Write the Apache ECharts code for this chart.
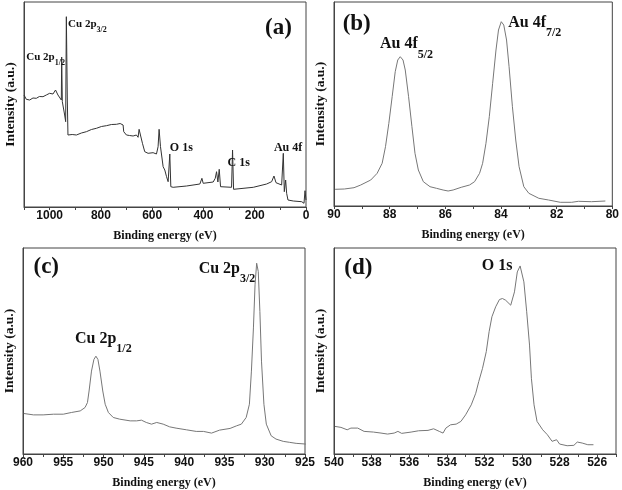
<!DOCTYPE html>
<html><head><meta charset="utf-8">
<script src="https://cdn.jsdelivr.net/npm/echarts@6/dist/echarts.min.js"></script>
<style>html,body{margin:0;padding:0;background:#fff}#c{width:622px;height:490px}</style>
</head><body><div id="c"></div><script>
// (a) survey spectrum
const surveyE = [1100,1091,1078,1065,1052,1040,1026,1013,1000,993,987,977,967.5,954.4,953,950.5,941.4,937.5,934.8,931,928.5,912,895.7,876,856.7,837,817.6,798,778.6,759,739.5,725,713.5,711,700.4,688,674.5,661.5,655,651,645.8,638,629,616,596.4,583.3,577,573,567.6,557.3,550.8,544,537.8,534,531.25,527.3,518.2,466,414,406,401,362,354,348.9,343.75,338.5,333.3,290.4,286.5,282.5,205.7,153.6,134,125,117,95,88.5,84.6,79.4,75.5,70.3,49.5,16.8,7.8,3.9,0];
const surveyI = [112,107.7,107,109,108.7,110.5,110.3,112,113.7,115.3,113,117,112,107,150,105.3,92,85.3,190.3,107,72,72.5,72,74,75.3,77.5,78.7,80.5,81.3,82.5,82.7,83.5,82,75.3,72,71.5,71,72,69.7,77.7,72,63.7,55.3,53.7,54.3,53,60.3,77.7,60.3,40.3,37,30.3,25.3,23.7,53,20.3,19.7,21,23,28.7,23.7,25,28.7,35.3,25,37.7,20.3,19.7,57,17.7,19.7,23,25.3,31,24.3,22,53.7,15.3,27,13.7,7,6,5.3,3.7,16.3,7];
// (b) Au 4f
const auE = [89.96,89.63,89.28,89.04,88.68,88.45,88.27,88.15,88.03,87.91,87.8,87.71,87.62,87.52,87.44,87.32,87.2,87.09,86.97,86.79,86.55,86.32,86.08,85.9,85.72,85.43,85.13,84.95,84.77,84.66,84.54,84.42,84.3,84.18,84.09,83.99,83.9,83.8,83.71,83.59,83.47,83.35,83.18,83,82.64,82.29,81.87,81.46,81.22,80.75,80.25];
const auI = [16.7,17,18.3,21,26,32.7,42.7,59.3,82.7,109.3,134.3,146,149.3,146,136,109.3,79.3,52.7,36,24.3,19.3,17.7,16,15,16,18.7,21,24.3,32.7,42.7,62.7,89.3,122.7,156,176,184.3,181,166,139.3,99.3,66,39.3,19.3,12.7,7.7,6,3.7,3.7,4.7,4.3,5];
// (c) Cu 2p
const cuE = [959.9,958.7,957.5,956.2,955,954,952.9,952.3,952,951.8,951.5,951.2,950.95,950.7,950.45,950.1,949.8,949.4,948.8,948,946.7,945.9,945.3,944.7,944.05,943.4,942.6,941.8,941,939.7,938.5,937.6,936.6,935.6,934.3,933.5,932.9,932.3,931.9,931.65,931.4,931.2,931,930.8,930.6,930.4,930.1,929.8,929.2,928.6,927.7,926.9,926.1,924.9];
const cuI = [40.7,39.3,39.3,40,40,41.7,43.3,46.7,51.7,63.3,83.3,95,98.3,95,83.3,63.3,50,41.7,36.7,35,33.3,33.3,34,31.7,30,31.7,30,27.3,26,24.3,22.7,22.7,21,24,25.7,28.3,30,36.7,50,83.3,126.7,170,191.7,183.3,143.3,93.3,50,30,18.3,15,12.7,11.7,10.7,10];
// (d) O 1s
const oE = [539.95,539.63,539.3,539.1,538.74,538.4,537.9,537.5,537.15,536.8,536.6,536.4,535.9,535.5,535,534.7,534.4,534.2,534.05,533.8,533.5,533.25,533,532.7,532.46,532.3,532.1,531.9,531.75,531.6,531.4,531.2,531.04,530.87,530.6,530.5,530.4,530.25,530.1,530.02,529.9,529.75,529.6,529.5,529.36,529.2,528.9,528.65,528.4,528.16,528,527.6,527.24,527.06,526.8,526.5,526.2];
const oI = [27.7,26.7,24.3,26,26,22.7,22,21,20,21,22.7,20.7,22,23.3,23.7,25.3,22.7,21,26,29.3,30,32.7,39.3,49.3,61,72.7,86,102.7,122.7,137.7,147.7,155,156,154.3,149.3,151,162.7,182.7,188.7,186.7,172.7,142.7,109.3,76,49.3,32.7,24.3,19.3,12.7,14.3,10,8.3,8.7,12,11,9.3,9.3];

const xTitle = 'Binding energy (eV)';
const yTitle = 'Intensity (a.u.)';

const chart = echarts.init(document.getElementById('c'), null, {renderer:'canvas'});
const zip = (a,b) => a.map((v,i) => [v, b[i]]);
const serif = 'Liberation Serif';
const axisCol = '#444';

const gridDefs = [
  {left:24, top:2, width:282, height:205},
  {left:334, top:2, width:282, height:204},
  {left:23, top:248, width:282, height:207},
  {left:334, top:248, width:282, height:206}
];
const grids = gridDefs.map(g => Object.assign({show:true, borderColor:axisCol, borderWidth:1, backgroundColor:'transparent'}, g));

function mkX(i, min, max, interval, step){
  return {gridIndex:i, type:'value', inverse:true, min, max, interval,
    axisLine:{show:true, onZero:false, lineStyle:{color:axisCol, width:1}},
    axisTick:{show:true, inside:false, length:3, lineStyle:{color:axisCol}},
    splitLine:{show:false},
    axisLabel:{margin:3, fontFamily:'Liberation Sans', fontWeight:'bold', fontSize:12, color:'#111',
      showMinLabel:true, showMaxLabel:true,
      formatter: v => (Math.abs(v/step - Math.round(v/step)) < 1e-6 ? String(v) : '')},
    name:xTitle, nameLocation:'middle', nameGap:23,
    nameTextStyle:{fontFamily:serif, fontWeight:'bold', fontSize:12, color:'#111'}};
}
function mkY(i, max){
  return {gridIndex:i, type:'value', min:0, max,
    axisLine:{show:true, onZero:false, lineStyle:{color:axisCol, width:1}},
    axisTick:{show:false}, axisLabel:{show:false}, splitLine:{show:false},
    name:yTitle, nameLocation:'middle', nameGap:6, nameRotate:90,
    nameTextStyle:{fontFamily:serif, fontWeight:'bold', fontSize:13.5, color:'#111'}};
}
// main text centred on the anchor; subscript pushed down with top padding
function rich(F, s, pad){
  return {
    m:{fontFamily:serif, fontWeight:'bold', fontSize:F, lineHeight:F, color:'#111'},
    s:{fontFamily:serif, fontWeight:'bold', fontSize:s, lineHeight:s, padding:[pad,0,0,0], color:'#111'}
  };
}
function ann(E, I, text, F, s, pad){
  return {coord:[E, I], symbol:'circle', symbolSize:0,
    label:{show:true, position:'right', distance:0, formatter:text, rich:rich(F, s||8, pad||0)}};
}
function mkSeries(i, data, color, anns){
  return {type:'line', xAxisIndex:i, yAxisIndex:i, data, showSymbol:false, smooth:false,
    lineStyle:{color, width:1}, itemStyle:{color}, animation:false,
    markPoint:{animation:false, data:anns}};
}

chart.setOption({
  animation:false,
  grid:grids,
  xAxis:[mkX(0,0,1100,100,200), mkX(1,80,90,1,2), mkX(2,925,960,2.5,5), mkX(3,525,540,1,2)],
  yAxis:[mkY(0,205), mkY(1,204), mkY(2,207), mkY(3,206.7)],
  series:[
    mkSeries(0, zip(surveyE, surveyI), '#333', [
      ann(1091,149.5,'{m|Cu 2p}{s|1/2}',11,8,11),
      ann(928,183,'{m|Cu 2p}{s|3/2}',11,8,11),
      ann(531,59.5,'{m|O 1s}',12),
      ann(306,44.5,'{m|C 1s}',12),
      ann(125,59.5,'{m|Au 4f}',12),
      ann(160,179,'{m|(a)}',23)
    ]),
    mkSeries(1, zip(auE, auI), '#777', [
      ann(89.69,182,'{m|(b)}',23),
      ann(88.35,162,'{m|Au 4f}{s|5/2}',16,12,21),
      ann(83.74,183.5,'{m|Au 4f}{s|7/2}',16,12,21)
    ]),
    mkSeries(2, zip(cuE, cuI), '#777', [
      ann(958.7,187.5,'{m|(c)}',23),
      ann(953.55,116,'{m|Cu 2p}{s|1/2}',16,12,21),
      ann(938.2,186,'{m|Cu 2p}{s|3/2}',16,12,21)
    ]),
    mkSeries(3, zip(oE, oI), '#777', [
      ann(539.45,187,'{m|(d)}',23),
      ann(532.14,189,'{m|O 1s}',16)
    ])
  ]
});
</script></body></html>
